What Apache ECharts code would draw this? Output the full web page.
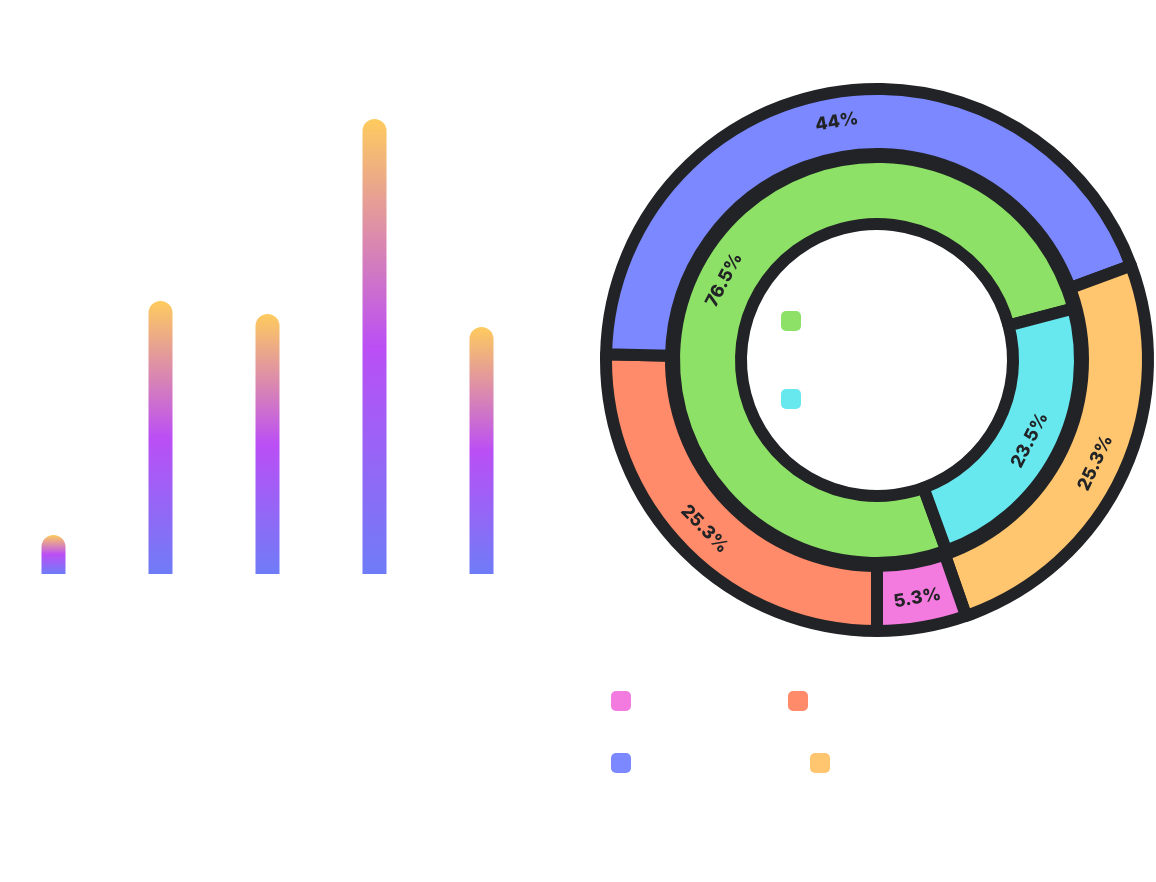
<!DOCTYPE html>
<html>
<head>
<meta charset="utf-8">
<script src="https://cdn.jsdelivr.net/npm/echarts@6/dist/echarts.min.js"></script>
<style>
html,body{margin:0;padding:0;background:#fff;}
#main{width:1156px;height:882px;}
</style>
</head>
<body>
<div id="main"></div>
<script>
// Bar chart data
var barCategories = ['Item 1', 'Item 2', 'Item 3', 'Item 4', 'Item 5'];
var barValues = [3, 21, 20, 35, 19];

// Outer ring data (clockwise from bottom)
var outerNames = ['Orange', 'Blue', 'Yellow', 'Pink'];
var outerValues = [19, 33, 19, 4];
var outerColors = ['#ff8b6a', '#7b88ff', '#ffc56f', '#f37ade'];

// Inner ring data
var innerNames = ['Green', 'Cyan'];
var innerValues = [26, 8];
var innerColors = ['#8ce166', '#67e7ee'];

var chart = echarts.init(document.getElementById('main'));

function sum(arr) { return arr.reduce(function (a, b) { return a + b; }, 0); }
function pctFormatter(values) {
  var total = sum(values);
  return function (p) {
    return (+(p.value / total * 100).toFixed(1)) + '%';
  };
}

var outerData = outerNames.map(function (n, i) {
  return { name: n, value: outerValues[i], itemStyle: { color: outerColors[i] } };
});
var innerData = innerNames.map(function (n, i) {
  return { name: n, value: innerValues[i], itemStyle: { color: innerColors[i] } };
});

function labelStyle(values) {
  return {
    show: true,
    position: 'inside',
    rotate: 'tangential',
    formatter: pctFormatter(values),
    color: '#222326',
    fontSize: 18,
    fontWeight: 800,
    fontFamily: 'Inter'
  };
}

var legendBase = {
  icon: 'roundRect',
  itemWidth: 20,
  itemHeight: 20,
  orient: 'vertical',
  padding: 0,
  itemStyle: { borderWidth: 0 },
  textStyle: { color: '#ffffff', fontSize: 14 }
};

chart.setOption({
  backgroundColor: '#ffffff',
  animation: false,
  grid: { left: 0, width: 535, top: 54, bottom: 308 },
  xAxis: {
    type: 'category',
    data: barCategories,
    axisLine: { show: false },
    axisTick: { show: false },
    axisLabel: { show: false },
    splitLine: { show: false }
  },
  yAxis: {
    type: 'value',
    min: 0,
    max: 40,
    axisLine: { show: false },
    axisTick: { show: false },
    axisLabel: { show: false },
    splitLine: { show: false }
  },
  legend: [
    Object.assign({}, legendBase, { data: innerNames, left: 781, top: 311, itemGap: 58 }),
    Object.assign({}, legendBase, { data: ['Pink', 'Blue'], left: 611, top: 691, itemGap: 42 }),
    Object.assign({}, legendBase, { data: ['Orange'], left: 788, top: 691 }),
    Object.assign({}, legendBase, { data: ['Yellow'], left: 810, top: 753 })
  ],
  series: [
    {
      type: 'bar',
      data: barValues,
      barWidth: 24,
      itemStyle: {
        borderRadius: [12, 12, 0, 0],
        color: new echarts.graphic.LinearGradient(0, 0, 0, 1, [
          { offset: 0, color: '#fecb5e' },
          { offset: 0.5, color: '#bb4ff5' },
          { offset: 1, color: '#6f7cf7' }
        ])
      }
    },
    {
      type: 'pie',
      center: [877, 360],
      radius: [206, 271],
      startAngle: 270,
      clockwise: true,
      data: outerData,
      itemStyle: { borderColor: '#222326', borderWidth: 12 },
      label: labelStyle(outerValues),
      labelLine: { show: false }
    },
    {
      type: 'pie',
      center: [877, 360],
      radius: [136, 203],
      startAngle: 290,
      clockwise: true,
      data: innerData,
      itemStyle: { borderColor: '#222326', borderWidth: 12 },
      label: labelStyle(innerValues),
      labelLine: { show: false }
    }
  ]
});
</script>
</body>
</html>
